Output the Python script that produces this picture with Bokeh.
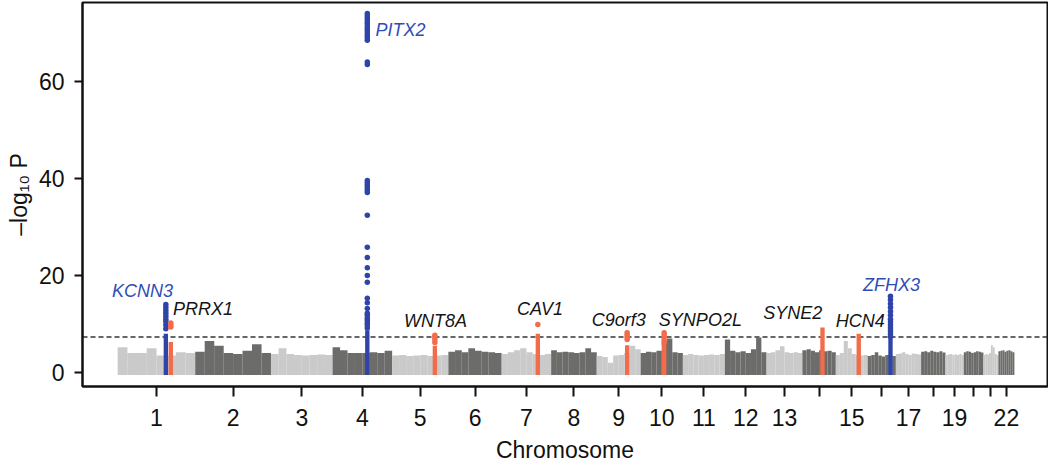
import numpy as np
from bokeh.plotting import figure
from bokeh.models import Range1d, ColumnDataSource, Span, FixedTicker
from bokeh.core.properties import value
from bokeh.embed import file_html
from bokeh.resources import INLINE

# ---------------- data ----------------
chrom_names = [str(i) for i in range(1, 23)]
chrom_len_mb = [249.25, 243.2, 198.0, 191.15, 180.9, 171.1, 159.1, 146.35, 141.2, 135.5, 135.0,
                133.85, 115.2, 107.35, 102.5, 90.35, 81.2, 78.1, 59.1, 63.0, 48.1, 51.3]
tick_labels = ["1", "2", "3", "4", "5", "6", "7", "8", "9", "10", "11", "12", "13", "", "15", "",
               "17", "", "19", "", "", "22"]

# approximate upper envelope (-log10 P) of the background SNP cloud, 8 bins per chromosome
chrom_skyline = [
    [5.2, 4.0, 4.0, 5.0, 3.5, 3.5, 4.2, 4.0],   # 1
    [4.3, 6.5, 5.5, 4.0, 3.8, 4.5, 5.8, 4.0],   # 2
    [3.8, 5.0, 3.8, 3.6, 3.5, 3.6, 3.7, 3.6],   # 3
    [5.2, 4.6, 4.0, 4.0, 4.0, 4.2, 4.0, 4.5],   # 4
    [3.5, 3.6, 3.4, 3.5, 3.6, 3.4, 3.5, 3.6],   # 5
    [4.3, 4.6, 4.2, 5.0, 4.5, 4.3, 4.2, 4.0],   # 6
    [3.8, 4.2, 4.6, 5.0, 4.2, 3.8, 3.6, 3.8],   # 7
    [4.6, 4.2, 4.3, 4.2, 4.0, 4.2, 5.0, 4.2],   # 8
    [3.4, 3.2, 2.0, 3.5, 3.6, 4.0, 5.5, 4.8],   # 9
    [4.0, 4.3, 4.2, 4.5, 6.5, 7.0, 4.2, 4.0],   # 10
    [3.6, 3.8, 3.6, 3.5, 3.6, 3.7, 3.6, 3.8],   # 11
    [6.8, 4.5, 4.2, 4.4, 4.0, 4.8, 7.2, 4.2],   # 12
    [4.0, 4.2, 4.6, 5.4, 4.2, 4.0, 4.2, 4.0],   # 13
    [4.6, 4.8, 4.5, 4.2, 4.6, 4.4, 4.5, 4.2],   # 14
    [3.6, 4.0, 6.5, 5.0, 3.8, 3.6, 3.5, 3.6],   # 15
    [3.4, 3.6, 4.2, 3.5, 3.3, 3.6, 3.5, 3.4],   # 16
    [3.8, 3.9, 4.2, 3.8, 3.6, 3.9, 3.8, 3.7],   # 17
    [4.3, 4.4, 4.2, 4.5, 4.3, 4.2, 4.4, 4.1],   # 18
    [3.6, 3.7, 3.8, 3.6, 3.7, 3.6, 3.8, 3.6],   # 19
    [4.2, 4.4, 4.3, 4.0, 4.2, 4.4, 4.3, 4.1],   # 20
    [3.6, 3.8, 3.7, 4.0, 5.6, 5.2, 3.8, 3.6],   # 21
    [4.4, 4.5, 4.6, 4.3, 4.5, 4.6, 4.4, 4.2],   # 22
]

hit_genes = ["KCNN3", "PRRX1", "PITX2", "WNT8A", "CAV1", "C9orf3", "SYNPO2L", "SYNE2", "HCN4", "ZFHX3"]
hit_chrom = [1, 1, 4, 5, 7, 9, 10, 14, 15, 16]
hit_pos_mb = [154.7, 170.6, 111.5, 137.4, 116.2, 97.7, 75.4, 64.5, 73.6, 73.1]
hit_novel = [False, True, False, True, True, True, True, True, True, False]
hit_dense_top = [8.0, 6.3, 8.7, 5.5, 8.0, 5.6, 5.5, 9.3, 8.0, 7.2]
hit_top_snps = [
    [9.0, 9.8, 10.5, 11.0, 11.6, 12.2, 12.8, 13.4, 14.0],
    [9.4, 9.8, 10.2],
    [9.2, 9.8, 10.2, 10.7, 11.2, 11.8, 12.2, 13.2, 14.4, 15.3, 18.6, 20.0, 21.6, 23.7, 25.8,
     32.4, 37.1, 37.6, 38.1, 38.6, 39.1, 39.6, 63.5, 64.0, 68.5, 69.0, 69.5, 70.0, 70.5, 71.0,
     71.5, 72.0, 72.5, 73.0, 73.5, 74.0],
    [6.2, 6.8, 7.3, 7.7],
    [9.9],
    [6.8, 7.3, 7.8, 8.2],
    [6.0, 6.6, 7.2, 7.7, 8.2],
    [],
    [],
    [7.4, 8.0, 8.6, 9.2, 9.8, 10.4, 11.0, 11.8, 12.6, 13.4, 14.2, 15.0, 15.7],
]
gw_threshold = 7.3

# label placement (cumulative Mb, -log10 P)
label_x = [79.7, 274.3, 908.5, 1021.0, 1356.6, 1610.0, 1872.0, 2169.0, 2386.0, 2486.0]
label_y = [16.9, 13.1, 70.7, 10.7, 13.0, 10.9, 10.8, 12.2, 10.6, 18.1]

# ---------------- styling ----------------
LIGHT = "#cacaca"
DARK = "#6c6c6a"
BLUE = "#2e44a8"
ORANGE = "#f26b4a"
LABEL_BLUE = "#2f4db8"
FONT = "Liberation Sans"

chrom_start = np.concatenate([[0.0], np.cumsum(chrom_len_mb)[:-1]])
chrom_center = [float(s + l / 2.0) for s, l in zip(chrom_start, chrom_len_mb)]

p = figure(width=1048, height=470, output_backend="svg", toolbar_location=None,
           x_range=Range1d(-113.07, 2987.2), y_range=Range1d(-2.887, 76.29),
           min_border_left=82, min_border_right=1, min_border_top=2, min_border_bottom=84,
           background_fill_color="white", border_fill_color="white")
p.xgrid.visible = False
p.ygrid.visible = False
p.outline_line_color = "#111111"
p.outline_line_width = 2

# threshold
p.add_layout(Span(location=gw_threshold, dimension="width", line_color="#333333",
                  line_width=1.5, line_dash="5 3", level="underlay"))

# background cloud
bx, btop, bw, bc = [], [], [], []
for ci, heights in enumerate(chrom_skyline):
    n = len(heights)
    w = chrom_len_mb[ci] / n
    for j, h in enumerate(heights):
        bx.append(float(chrom_start[ci] + (j + 0.5) * w))
        btop.append(h)
        bw.append(w * 1.01)
        bc.append(LIGHT if ci % 2 == 0 else DARK)
p.vbar(x=bx, top=btop, bottom=-0.5, width=bw, fill_color=bc, line_color=None)

# hit loci
hx = [float(chrom_start[c - 1] + pos) for c, pos in zip(hit_chrom, hit_pos_mb)]
hcol = [ORANGE if nv else BLUE for nv in hit_novel]
p.vbar(x=hx, top=hit_dense_top, bottom=-0.5, width=14, fill_color=hcol, line_color=None)
dx, dy, dc = [], [], []
for x, col, snps in zip(hx, hcol, hit_top_snps):
    for v in snps:
        dx.append(x); dy.append(v); dc.append(col)
p.scatter(x=dx, y=dy, size=5.5, fill_color=dc, line_color=None)

# gene labels
lab_col = ["#151515" if nv else LABEL_BLUE for nv in hit_novel]
src = ColumnDataSource(dict(x=label_x, y=label_y, text=hit_genes, color=lab_col))
p.text(x="x", y="y", text="text", source=src, text_color="color",
       text_font=value(FONT), text_font_style="italic", text_font_size="18px",
       text_align="center", text_baseline="middle")

# axes
p.xaxis.ticker = FixedTicker(ticks=chrom_center)
p.xaxis.major_label_overrides = {c: t for c, t in zip(chrom_center, tick_labels)}
p.yaxis.ticker = FixedTicker(ticks=[0, 20, 40, 60])
p.xaxis.axis_label = "Chromosome"
p.yaxis.axis_label = "\u2013log\u2081\u2080 P"
for ax in (p.xaxis, p.yaxis):
    ax.axis_line_width = 2
    ax.axis_line_color = "#111111"
    ax.major_tick_line_width = 2
    ax.major_tick_line_color = "#111111"
    ax.major_tick_in = 0
    ax.minor_tick_line_color = None
    ax.major_label_text_font = FONT
    ax.major_label_text_font_size = "23px"
    ax.major_label_text_color = "#111111"
    ax.axis_label_text_font = FONT
    ax.axis_label_text_font_size = "23px"
    ax.axis_label_text_font_style = "normal"
    ax.axis_label_text_color = "#111111"
p.xaxis.major_tick_out = 10
p.xaxis.major_label_standoff = 12
p.xaxis.axis_label_standoff = 8
p.yaxis.major_tick_out = 8
p.yaxis.major_label_standoff = 10
p.yaxis.axis_label_standoff = 4

open("out.html", "w").write(file_html(p, INLINE))
